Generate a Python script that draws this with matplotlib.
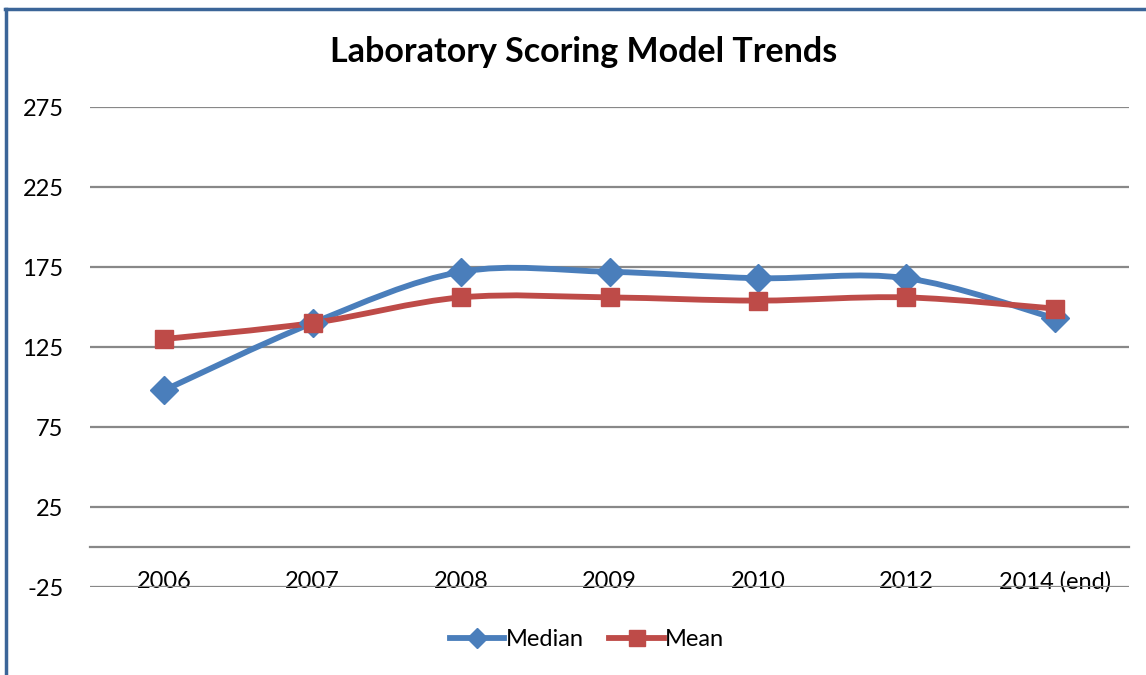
import numpy as np
import matplotlib
matplotlib.use("Agg")
import matplotlib.pyplot as plt
from matplotlib.path import Path
from matplotlib.patches import PathPatch
from matplotlib.lines import Line2D

plt.rcParams['font.family'] = ['Lato', 'DejaVu Sans']
plt.rcParams['axes.unicode_minus'] = False

# data
years = ["2006", "2007", "2008", "2009", "2010", "2012", "2014 (end)"]
median = [98, 140, 172, 172, 168, 168, 143]
mean = [130, 140, 156, 156, 154, 156, 149]
yticks = [-25, 25, 75, 125, 175, 225, 275]

blue = "#4A7EBB"
red = "#BE4B48"


# smoothed line like excel (catmull-rom as bezier)
def smooth_path(xs, ys):
    pts = np.column_stack([xs, ys]).astype(float)
    n = len(pts)
    verts = [pts[0]]
    codes = [Path.MOVETO]
    for i in range(n - 1):
        p0 = pts[max(i - 1, 0)]
        p1 = pts[i]
        p2 = pts[i + 1]
        p3 = pts[min(i + 2, n - 1)]
        c1 = p1 + (p2 - p0) / 6.0
        c2 = p2 - (p3 - p1) / 6.0
        verts += [c1, c2, p2]
        codes += [Path.CURVE4] * 3
    return Path(verts, codes)


fig = plt.figure(figsize=(11.46, 6.75), dpi=100)
ax = fig.add_axes([90 / 1146, 1 - 587 / 675, (1129 - 90) / 1146, (587 - 107) / 675])

x = np.arange(len(years))
for vals, col, mk, ms in [(median, blue, "D", 14), (mean, red, "s", 13)]:
    ax.add_patch(PathPatch(smooth_path(x, vals), facecolor="none", edgecolor=col,
                           lw=4.2, capstyle="round", zorder=3))
    ax.plot(x, vals, linestyle="none", marker=mk, ms=ms, color=col, zorder=4)

ax.set_xlim(-0.5, len(years) - 0.5)
ax.set_ylim(-25, 275)
ax.set_yticks(yticks)
ax.yaxis.grid(True, color="#888888", lw=1.6)
ax.set_axisbelow(True)
ax.set_xticks(x)
ax.set_xticklabels(years)
ax.tick_params(axis="both", length=0, labelsize=17)
ax.tick_params(axis="y", pad=19)
ax.tick_params(axis="x", pad=17)
for s in ["top", "right", "left"]:
    ax.spines[s].set_visible(False)
ax.spines["bottom"].set_position(("data", 0))
ax.spines["bottom"].set_color("#888888")
ax.spines["bottom"].set_linewidth(1.6)

fig.text(584 / 1146, 1 - 52 / 675, "Laboratory Scoring Model Trends", ha="center", va="center",
         fontsize=24.5, fontweight="bold")

handles = [Line2D([], [], color=blue, lw=4.2, marker="D", ms=10),
           Line2D([], [], color=red, lw=4.2, marker="s", ms=11)]
fig.legend(handles, ["Median", "Mean"], loc="center", bbox_to_anchor=(587 / 1146, 1 - 640 / 675),
           ncol=2, frameon=False, fontsize=17, handlelength=2.3, handletextpad=0.05, columnspacing=1.1)

# blue chart border (only top and left show)
fig.add_artist(Line2D([6 / 1146, 6 / 1146], [0, 1 - 9 / 675], color="#3B6598", lw=2.5))
fig.add_artist(Line2D([5 / 1146, 1], [1 - 9 / 675, 1 - 9 / 675], color="#3B6598", lw=2.5))

fig.savefig("out.png", dpi=100)
